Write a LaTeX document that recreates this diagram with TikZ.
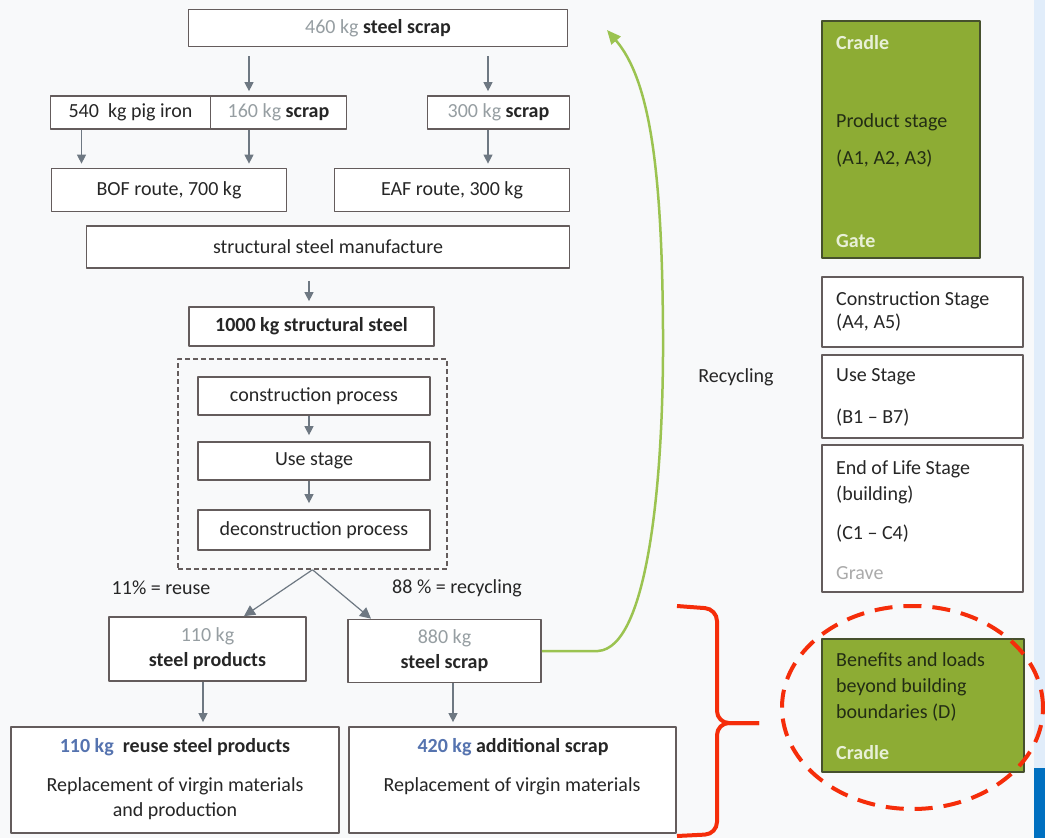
\documentclass[tikz,border=0pt]{standalone}
\usepackage{fontspec}
\setmainfont{Carlito}
\usetikzlibrary{arrows.meta}
\definecolor{bg}{RGB}{248,249,250}
\definecolor{boxline}{RGB}{100,92,92}
\definecolor{txt}{RGB}{38,38,38}
\definecolor{kggrey}{RGB}{150,158,162}
\definecolor{kgblue}{RGB}{85,115,175}
\definecolor{arrgrey}{RGB}{110,120,130}
\definecolor{stagegreen}{RGB}{141,172,52}
\definecolor{stageline}{RGB}{70,80,45}
\definecolor{lightlbl}{RGB}{232,240,215}
\definecolor{darktxt}{RGB}{35,45,20}
\definecolor{gravegrey}{RGB}{170,170,170}
\definecolor{recygreen}{RGB}{155,195,80}
\definecolor{markred}{RGB}{245,45,10}
\definecolor{stripblue}{RGB}{225,237,250}
\definecolor{deepblue}{RGB}{0,112,192}
\begin{document}
\begin{tikzpicture}[x=1pt,y=-1pt,line join=round,font=\fontsize{20}{25}\selectfont,
  box/.style={draw=boxline,line width=1.7pt,fill=white,text=txt,inner sep=0pt},
  wh/.style 2 args={minimum width=#1pt,minimum height=#2pt},
  stage/.style={box,fill=stagegreen,draw=stageline},
  lbl/.style={inner sep=0pt,text=txt},
  sl/.style={lbl,anchor=west},
  arr/.style={draw=arrgrey,line width=1.2pt,-{Triangle[length=9pt,width=9pt]}},
  bracket/.style={draw=markred,line width=4pt,rounded corners=12pt}]
  \fill[bg] (0,0) rectangle (1045,838);
  \useasboundingbox (0,0) rectangle (1045,838);
  \fill[stripblue] (1034,0) rectangle (1045,838);
  \fill[deepblue] (1034,768) rectangle (1045,838);
  \node[box,wh={379}{37}] (top) at (378,28) {\textcolor{kggrey}{460 kg} \textbf{steel scrap}};
  \node[box,wh={160}{33}] (pig) at (130.5,112.5) {540~ kg pig iron};
  \node[box,wh={136}{33}] (scrapA) at (278.5,112.5) {\textcolor{kggrey}{160 kg} \textbf{scrap}};
  \node[box,wh={142}{33}] (scrapB) at (498.5,112.5) {\textcolor{kggrey}{300 kg} \textbf{scrap}};
  \node[box,wh={235}{43}] (bof) at (169,190) {BOF route, 700 kg};
  \node[box,wh={235}{43}] (eaf) at (452,190) {EAF route, 300 kg};
  \node[box,wh={483}{42}] (manuf) at (328,247) {structural steel manufacture};
  \node[box,wh={245}{39}] (steel) at (311.5,326.5) {\textbf{1000 kg structural steel}};
  \node[draw=boxline,dash pattern=on 5pt off 3pt,line width=1.5pt,wh={269}{210}] (life) at (312.5,464) {};
  \node[box,wh={232}{38}] (constr) at (314,396) {construction process};
  \node[box,wh={232}{38}] (use) at (314,461) {Use stage};
  \node[box,wh={232}{40}] (decon) at (314,530) {deconstruction process};
  \node[lbl] (reuse) at (161,588) {11\% = reuse};
  \node[lbl] (recy) at (457,588) {88 \% = recycling};
  \node[box,wh={197}{64},align=center] (prod) at (207.5,649) {\textcolor{kggrey}{110 kg}\\\textbf{steel products}};
  \node[box,wh={193}{63},align=center] (scrapC) at (444.5,651) {\textcolor{kggrey}{880 kg}\\\textbf{steel scrap}};
  \node[box,wh={328}{106}] (reuseB) at (175,780) {};
  \node[box,wh={327}{106}] (addB) at (512.5,780) {};
  \node[lbl] (reuseT) at (175,747) {\textbf{\textcolor{kgblue}{110 kg}~ reuse steel products}};
  \node[lbl] (reuseR) at (175,786) {Replacement of virgin materials};
  \node[lbl] (reuseP) at (175,811) {and production};
  \node[lbl] (addT) at (513,747) {\textbf{\textcolor{kgblue}{420 kg} additional scrap}};
  \node[lbl] (addR) at (512,786) {Replacement of virgin materials};
  \draw[arr,shorten <=9pt,shorten >=4pt] (249,0 |- top.south) -- (249,0 |- scrapA.north);
  \draw[arr,shorten <=9pt,shorten >=4pt] (488,0 |- top.south) -- (488,0 |- scrapB.north);
  \draw[arr,shorten >=4pt] (81.5,0 |- pig.south) -- (81.5,0 |- bof.north);
  \draw[arr,shorten >=4pt] (249,0 |- scrapA.south) -- (249,0 |- bof.north);
  \draw[arr,shorten >=4pt] (488,0 |- scrapB.south) -- (488,0 |- eaf.north);
  \draw[arr,shorten <=12pt,shorten >=5pt] (309,0 |- manuf.south) -- (309,0 |- steel.north);
  \draw[arr,shorten >=6pt] (309,0 |- constr.south) -- (309,0 |- use.north);
  \draw[arr,shorten >=6pt] (309,0 |- use.south) -- (309,0 |- decon.north);
  \draw[arr,-{Triangle[length=11pt,width=11pt]}] (life.south) -- (244,0 |- prod.north);
  \draw[arr,-{Triangle[length=11pt,width=11pt]}] (life.south) -- (371,0 |- scrapC.north);
  \draw[arr,shorten >=4pt] (203,0 |- prod.south) -- (203,0 |- reuseB.north);
  \draw[arr,shorten >=4pt] (453,0 |- scrapC.south) -- (453,0 |- addB.north);
  \coordinate (back) at (607,30);
  \draw[recygreen,line width=2.5pt,-{Triangle[length=14pt,width=12pt]}] (scrapC.east) -- (598,651)
    .. controls (648,648) and (664,480) .. (663,330) .. controls (662,170) and (650,80) .. (back);
  \node[lbl] (recLbl) at (736,377) {Recycling};
  \node[stage,wh={158}{237}] (product) at (901,139.5) {};
  \node[box,wh={201}{70}] (constrS) at (922.5,312) {};
  \node[box,wh={201}{83}] (useS) at (922.5,396.5) {};
  \node[box,wh={201}{147}] (endS) at (922.5,518.5) {};
  \node[stage,wh={202}{133}] (benef) at (923,705.5) {};
  \node[sl,text=lightlbl] (cradleA) at (836,43) {\textbf{Cradle}};
  \node[sl,text=darktxt] (prodS) at (836,122) {Product stage};
  \node[sl,text=darktxt] (prodA) at (836,159) {(A1, A2, A3)};
  \node[sl,text=lightlbl] (gate) at (836,241) {\textbf{Gate}};
  \node[sl] (constrT) at (836,300) {Construction Stage};
  \node[sl] (constrA) at (836,323) {(A4, A5)};
  \node[sl] (useT) at (836,377) {Use Stage};
  \node[sl] (useA) at (836,418) {(B1 -- B7)};
  \node[sl] (endT) at (836,469) {End of Life Stage};
  \node[sl] (endB) at (836,495) {(building)};
  \node[sl] (endA) at (836,534) {(C1 -- C4)};
  \node[sl,text=gravegrey] (grave) at (836,573) {Grave};
  \node[sl,text=darktxt] (benT) at (836,660) {Benefits and loads};
  \node[sl,text=darktxt] (benB) at (836,687) {beyond building};
  \node[sl,text=darktxt] (benD) at (836,713) {boundaries (D)};
  \node[sl,text=lightlbl] (cradleB) at (836,753) {\textbf{Cradle}};
  \draw[markred,line width=4pt,dash pattern=on 18pt off 11pt] (912.5,707.5) ellipse [x radius=130.5pt,y radius=101.5pt];
  \draw[bracket] (677,606) -- (717,609) -- (717,723) -- (759,723);
  \draw[bracket] (759,723) -- (717,723) -- (717,834) -- (677,836);
\end{tikzpicture}
\end{document}
